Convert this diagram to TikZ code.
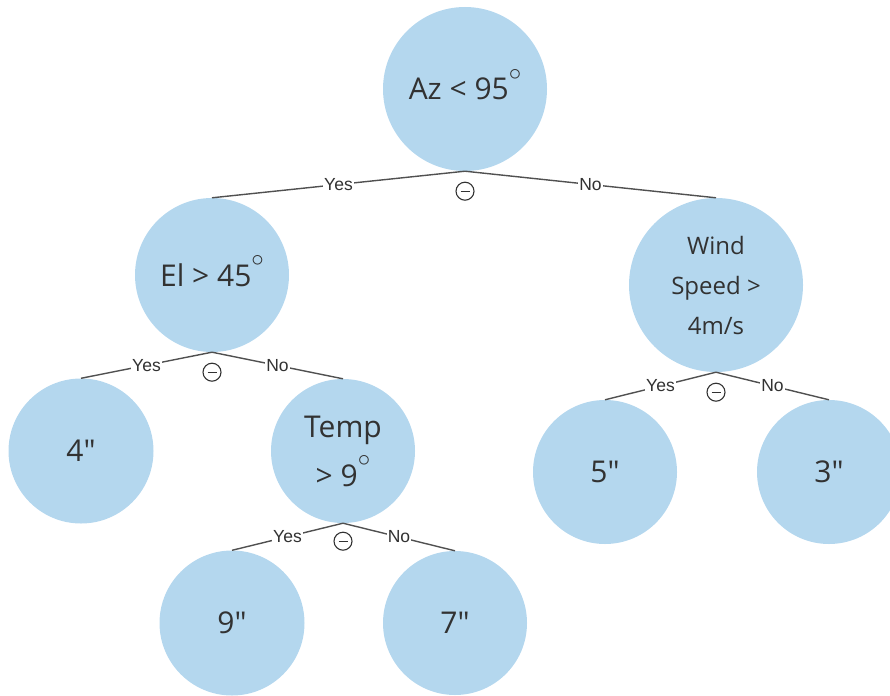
\documentclass[tikz,border=0pt]{standalone}
\usepackage{fontspec}
\setmainfont{Open Sans}
\newfontfamily\lblfont{Liberation Sans}
\definecolor{nodeblue}{RGB}{180,215,238}
\definecolor{txtc}{RGB}{50,50,50}
\definecolor{edgec}{RGB}{80,80,80}
\newcommand{\dgr}{\smash{\raisebox{19.5pt}{\fontsize{26}{26}\selectfont$\circ$}}}
\newcommand{\inch}{\textquotedbl}
\begin{document}
\begin{tikzpicture}[x=1pt,y=-1pt,
  dnode/.style={circle, fill=nodeblue, inner sep=0pt, text=txtc, align=center, font=\fontsize{30}{36}\selectfont},
  conn/.style={draw=edgec, line width=1.4pt},
  lbl/.style={fill=white, inner sep=1pt, text=txtc, font=\lblfont\fontsize{17.5}{20}\selectfont},
  minusmark/.style={circle, draw=txtc, line width=1.1pt, minimum size=18pt, inner sep=0pt,
    path picture={\draw[txtc, line width=1.1pt] ([xshift=-4.5pt]path picture bounding box.center) -- ([xshift=4.5pt]path picture bounding box.center);}}
]
\useasboundingbox (0,0) rectangle (890,695);
\clip (0,0) rectangle (890,695);

\node[dnode, minimum size=164pt] (root) at (465,89) {Az < 95\dgr};
\node[dnode, minimum size=154pt] (el) at (212,275) {El > 45\dgr};
\node[dnode, minimum size=174pt, font=\fontsize{24}{40}\selectfont] (wind) at (716,285) {Wind\\Speed >\\4m/s};
\node[dnode, minimum size=145pt] (n4) at (81,451) {4\inch};
\node[dnode, minimum size=144pt, font=\fontsize{30}{49}\selectfont] (temp) at (343,451) {Temp\\> 9\dgr};
\node[dnode, minimum size=144pt] (n5) at (605,472) {5\inch};
\node[dnode, minimum size=144pt] (n3) at (829,472) {3\inch};
\node[dnode, minimum size=145pt] (n9) at (232,623) {9\inch};
\node[dnode, minimum size=144pt] (n7) at (455,623) {7\inch};

\draw[conn] (root.south) -- node[lbl] {Yes} (el.north);
\draw[conn] (root.south) -- node[lbl] {No} (wind.north);
\draw[conn] (el.south) -- node[lbl] {Yes} (n4.north);
\draw[conn] (el.south) -- node[lbl] {No} (temp.north);
\draw[conn] (wind.south) -- node[lbl] {Yes} (n5.north);
\draw[conn] (wind.south) -- node[lbl] {No} (n3.north);
\draw[conn] (temp.south) -- node[lbl] {Yes} (n9.north);
\draw[conn] (temp.south) -- node[lbl] {No} (n7.north);

\node[minusmark] (m1) at ([yshift=-20pt]root.south) {};
\node[minusmark] (m2) at ([yshift=-20pt]el.south) {};
\node[minusmark] (m3) at ([yshift=-20pt]wind.south) {};
\node[minusmark] (m4) at ([yshift=-18pt]temp.south) {};
\end{tikzpicture}
\end{document}
